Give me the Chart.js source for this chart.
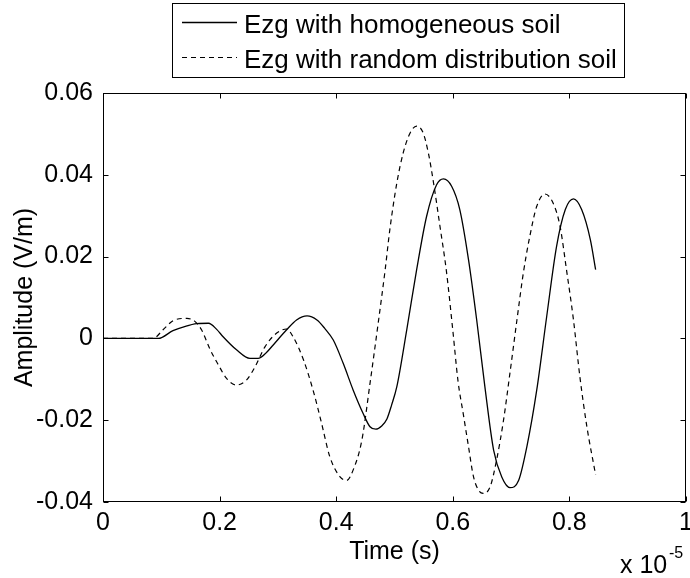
<!DOCTYPE html>
<html>
<head>
<meta charset="utf-8">
<script src="https://cdn.jsdelivr.net/npm/chart.js@4"></script>
<style>
  body { margin: 0; background: #fff; }
  canvas { display: block; }
</style>
</head>
<body>
<canvas id="ezgChart" width="690" height="578"></canvas>
<script>
// time axis is in units of 1e-5 s
const solidTime = [0, 0.05, 0.095, 0.12, 0.14, 0.161, 0.181, 0.195, 0.206, 0.229, 0.252, 0.266, 0.28, 0.292, 0.315, 0.332, 0.35, 0.367, 0.38, 0.395, 0.412, 0.429, 0.446, 0.458, 0.468, 0.478, 0.487, 0.495, 0.504, 0.521, 0.538, 0.555, 0.572, 0.584, 0.598, 0.612, 0.627, 0.641, 0.655, 0.67, 0.684, 0.698, 0.713, 0.727, 0.744, 0.761, 0.778, 0.793, 0.807, 0.821, 0.836, 0.845];
const solidAmp = [0, 0, 0, 0.0019, 0.0029, 0.0036, 0.0037, 0.0022, 0.0004, -0.0028, -0.0049, -0.0049, -0.0035, -0.0016, 0.0021, 0.0045, 0.0055, 0.0045, 0.0025, -0.0004, -0.0061, -0.0126, -0.0183, -0.0216, -0.0222, -0.0214, -0.0197, -0.0163, -0.0118, 0.0021, 0.0168, 0.0298, 0.0375, 0.039, 0.0372, 0.0315, 0.0192, 0.0045, -0.0118, -0.0273, -0.0339, -0.0365, -0.0347, -0.0265, -0.0126, 0.0053, 0.0225, 0.0315, 0.0341, 0.0315, 0.0241, 0.0168];

const dashedTime = [0, 0.05, 0.086, 0.103, 0.121, 0.144, 0.158, 0.169, 0.184, 0.198, 0.212, 0.229, 0.246, 0.261, 0.278, 0.298, 0.315, 0.326, 0.344, 0.361, 0.375, 0.389, 0.407, 0.418, 0.429, 0.444, 0.458, 0.472, 0.484, 0.492, 0.504, 0.515, 0.527, 0.538, 0.549, 0.558, 0.567, 0.578, 0.589, 0.6, 0.609, 0.618, 0.627, 0.635, 0.644, 0.652, 0.664, 0.675, 0.687, 0.698, 0.71, 0.721, 0.732, 0.744, 0.758, 0.772, 0.784, 0.795, 0.807, 0.818, 0.83, 0.845];
const dashedAmp = [0, 0, 0, 0.0021, 0.0044, 0.0049, 0.0041, 0.0021, -0.0028, -0.0065, -0.0098, -0.0114, -0.0102, -0.0069, -0.002, 0.0013, 0.0023, 0.0004, -0.0053, -0.013, -0.0208, -0.0289, -0.0339, -0.0347, -0.0322, -0.0249, -0.011, 0.0037, 0.0168, 0.0266, 0.038, 0.0454, 0.0503, 0.0519, 0.0503, 0.0454, 0.038, 0.0274, 0.0165, 0.002, -0.0105, -0.0185, -0.0265, -0.0335, -0.0371, -0.0379, -0.0363, -0.0298, -0.02, -0.0085, 0.0045, 0.016, 0.0249, 0.0323, 0.0353, 0.0331, 0.0274, 0.0168, 0.0045, -0.0094, -0.0216, -0.0334];

const seriesLabels = ["Ezg with homogeneous soil", "Ezg with random distribution soil"];
const xTickLabels = ["0", "0.2", "0.4", "0.6", "0.8", "1"];
const yTickLabels = ["-0.04", "-0.02", "0", "0.02", "0.04", "0.06"];

const fontFamily = "'Liberation Sans', Arial, sans-serif";
const axisFont = { family: fontFamily, size: 25 };

function toPoints(xs, ys) {
    return xs.map((x, i) => ({ x: x, y: ys[i] }));
}

function fmt(v) {
    return Number(v.toFixed(2)).toString();
}

// box with inward ticks on all four sides, matlab style
const framePlugin = {
    id: "frame",
    afterDraw(chart) {
        const ctx = chart.ctx;
        const area = chart.chartArea;
        const l = Math.round(area.left) + 0.5, r = Math.round(area.right) - 0.5;
        const t = Math.round(area.top) + 0.5, b = Math.round(area.bottom) - 0.5;
        const tick = 5;
        ctx.save();
        ctx.strokeStyle = "#000";
        ctx.lineWidth = 1;
        ctx.strokeRect(l, t, r - l, b - t);
        ctx.beginPath();
        chart.scales.x.ticks.forEach(tk => {
            const px = Math.round(chart.scales.x.getPixelForValue(tk.value)) + 0.5;
            ctx.moveTo(px, b); ctx.lineTo(px, b - tick);
            ctx.moveTo(px, t); ctx.lineTo(px, t + tick);
        });
        chart.scales.y.ticks.forEach(tk => {
            const py = Math.round(chart.scales.y.getPixelForValue(tk.value)) + 0.5;
            ctx.moveTo(l, py); ctx.lineTo(l + tick, py);
            ctx.moveTo(r, py); ctx.lineTo(r - tick, py);
        });
        ctx.stroke();

        // exponent label under the right end of the x axis
        ctx.fillStyle = "#000";
        ctx.textAlign = "left";
        ctx.textBaseline = "alphabetic";
        ctx.font = "25px " + fontFamily;
        ctx.fillText("x 10", 620, 573);
        ctx.font = "16px " + fontFamily;
        ctx.fillText("-5", 669, 558);
        ctx.restore();
    }
};

// legend box at the top, drawn from the dataset styles
const legendPlugin = {
    id: "boxLegend",
    afterDraw(chart) {
        const ctx = chart.ctx;
        ctx.save();
        ctx.fillStyle = "#fff";
        ctx.fillRect(172.5, 3.5, 452, 74);
        ctx.strokeStyle = "#000";
        ctx.lineWidth = 1;
        ctx.strokeRect(172.5, 3.5, 452, 74);
        ctx.font = "26px " + fontFamily;
        ctx.textAlign = "left";
        ctx.textBaseline = "alphabetic";
        const rowLine = [22.5, 57.5];
        const rowBase = [33, 68];
        chart.data.datasets.forEach((ds, i) => {
            ctx.beginPath();
            ctx.setLineDash(ds.borderDash || []);
            ctx.lineWidth = ds.borderWidth;
            ctx.strokeStyle = ds.borderColor;
            ctx.moveTo(182, rowLine[i]);
            ctx.lineTo(237, rowLine[i]);
            ctx.stroke();
            ctx.setLineDash([]);
            ctx.fillStyle = "#000";
            ctx.fillText(ds.label, 244, rowBase[i]);
        });
        ctx.restore();
    }
};

const ezgChart = new Chart(document.getElementById("ezgChart"), {
    type: "line",
    data: {
        datasets: [
            {
                label: seriesLabels[0],
                data: toPoints(solidTime, solidAmp),
                borderColor: "#000",
                borderWidth: 1.3,
                pointRadius: 0,
                cubicInterpolationMode: "monotone",
                fill: false
            },
            {
                label: seriesLabels[1],
                data: toPoints(dashedTime, dashedAmp),
                borderColor: "#000",
                borderWidth: 1.2,
                borderDash: [5, 4],
                pointRadius: 0,
                cubicInterpolationMode: "monotone",
                fill: false
            }
        ]
    },
    options: {
        responsive: false,
        animation: false,
        devicePixelRatio: 1,
        layout: { padding: { top: 93, right: 4, left: 0, bottom: 0 } },
        plugins: { legend: { display: false }, tooltip: { enabled: false } },
        scales: {
            x: {
                type: "linear",
                min: 0,
                max: 1,
                afterFit: s => { s.height = 76; s.paddingLeft = 0; s.paddingRight = 0; },
                afterBuildTicks: s => { s.ticks = xTickLabels.map(v => ({ value: parseFloat(v) })); },
                ticks: { color: "#000", font: axisFont, padding: 6, maxRotation: 0, callback: v => fmt(v) },
                grid: { display: false, drawTicks: false },
                border: { display: false },
                title: { display: true, text: "Time (s)", color: "#000", font: axisFont, padding: { top: 0, bottom: 11 } }
            },
            y: {
                min: -0.04,
                max: 0.06,
                afterFit: s => { s.width = 103; },
                afterBuildTicks: s => { s.ticks = yTickLabels.map(v => ({ value: parseFloat(v) })); },
                ticks: { color: "#000", font: axisFont, padding: 10, callback: v => fmt(v) },
                grid: { display: false, drawTicks: false },
                border: { display: false },
                title: { display: true, text: "Amplitude (V/m)", color: "#000", font: axisFont, padding: { top: 10, bottom: 0 } }
            }
        }
    },
    plugins: [framePlugin, legendPlugin]
});
</script>
</body>
</html>
